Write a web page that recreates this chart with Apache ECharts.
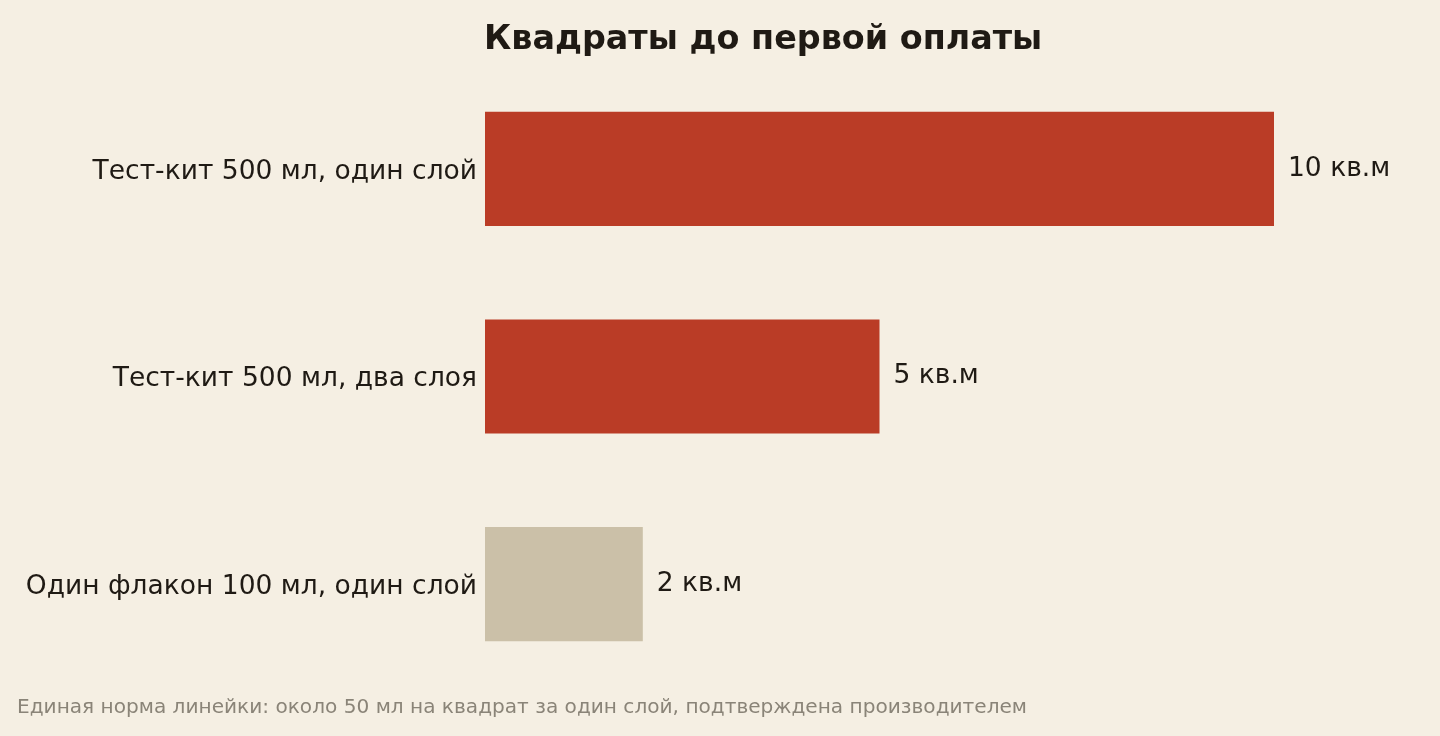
<!DOCTYPE html>
<html><head><meta charset="utf-8">
<script src="https://cdn.jsdelivr.net/npm/echarts@6/dist/echarts.min.js"></script>
<style>html,body{margin:0;padding:0;background:#F5EFE3}#c{width:1440px;height:736px}</style>
</head><body><div id="c"></div>
<script>
const categories = ['Тест-кит 500 мл, один слой', 'Тест-кит 500 мл, два слоя', 'Один флакон 100 мл, один слой'];
const values = [10, 5, 2];
const barColors = ['#BA3C26', '#BA3C26', '#CBC0A8'];
const unit = ' кв.м';
const titleText = 'Квадраты до первой оплаты';
const noteText = 'Единая норма линейки: около 50 мл на квадрат за один слой, подтверждена производителем';

const chart = echarts.init(document.getElementById('c'), null, {renderer: 'canvas'});
chart.setOption({
  backgroundColor: '#F5EFE3',
  animation: false,
  textStyle: {fontFamily: 'DejaVu Sans'},
  title: [{
    text: titleText, left: 484, top: 24, padding: 0,
    textStyle: {fontFamily: 'DejaVu Sans', fontWeight: 'bold', fontSize: 33.4, color: '#1F1A14'}
  }, {
    text: noteText, left: 17, top: 698, padding: 0,
    textStyle: {fontFamily: 'DejaVu Sans', fontWeight: 'normal', fontSize: 20.1, color: '#8A8478'}
  }],
  grid: {left: 485, width: 789, top: 65, height: 623, containLabel: false},
  xAxis: {type: 'value', min: 0, max: 10, show: false},
  yAxis: {
    type: 'category', data: categories, inverse: true,
    axisLine: {show: false}, axisTick: {show: false}, splitLine: {show: false},
    axisLabel: {
      margin: 8,
      formatter: v => '{a|' + v + '}',
      rich: {a: {fontFamily: 'DejaVu Sans', fontSize: 26.5, color: '#1F1A14', padding: [6, 0, 0, 0]}}
    }
  },
  series: [{
    type: 'bar', barWidth: '55%',
    data: values.map((v, i) => ({value: v, itemStyle: {color: barColors[i]}})),
    label: {show: true, position: 'right', distance: 14, fontFamily: 'DejaVu Sans', fontSize: 26.5, color: '#1F1A14',
      formatter: p => p.value + unit}
  }]
});
</script></body></html>
